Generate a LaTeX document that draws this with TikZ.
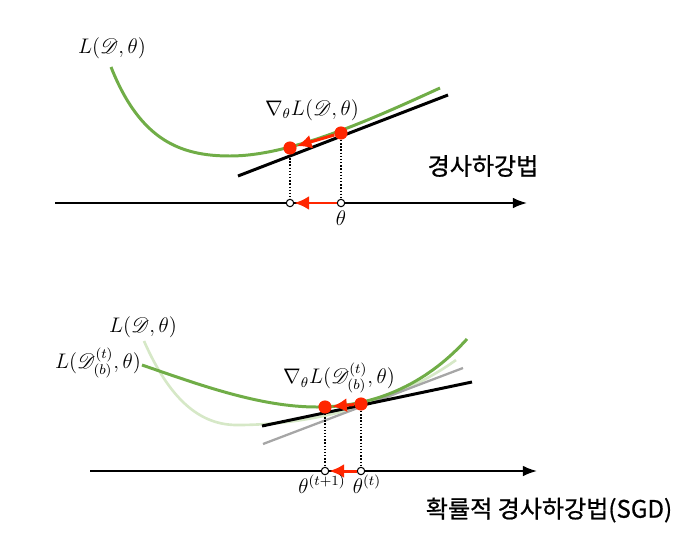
\documentclass[tikz,border=0pt]{standalone}
\usepackage[no-math]{fontspec}
\usepackage{mathrsfs}
\newfontfamily\krfont[FakeBold=0.8]{Noto Sans CJK KR}
\usetikzlibrary{arrows.meta}
\definecolor{lossgreen}{RGB}{112,173,71}
\definecolor{palegreen}{RGB}{214,232,199}
\definecolor{stepred}{RGB}{255,38,0}
\begin{document}
\begin{tikzpicture}[
    x=0.02cm, y=-0.02cm,
    curve/.style={lossgreen, line width=1.7pt},
    tangent/.style={black, line width=1.7pt},
    axis/.style={-{Latex[length=8pt,width=6pt]}, line width=1pt},
    pt/.style={circle, fill=stepred, minimum size=7.5pt, inner sep=0pt},
    tick/.style={circle, draw, fill=white, line width=0.6pt, minimum size=4.2pt, inner sep=0pt},
    drop/.style={densely dotted, line width=0.8pt},
    gdstep/.style={-{Latex[length=8.5pt,width=8pt]}, stepred, line width=1.7pt},
    lbl/.style={font=\large},
    kr/.style={font=\krfont\fontsize{13.7}{16}\selectfont}
]
    \useasboundingbox (0,0) rectangle (688,541);

    % Gradient descent
    \coordinate (axL) at (55,203);
    \coordinate (axR) at (527,203);
    \draw[axis] (axL) -- (axR);

    \coordinate (tanA) at (238,176);
    \coordinate (tanB) at (448,95);
    \draw[tangent] (tanA) -- (tanB);
    \draw[curve] (111,67) .. controls (140,140) and (180,156) .. (230,156)
        .. controls (290,156) and (370,120) .. (440,88);

    \node[pt] (new) at (290,148) {};
    \node[pt] (old) at (341,133) {};
    \node[tick] (tnew) at (290,203) {};
    \node[tick] (told) at (341,203) {};
    \draw[drop] (new) -- (tnew);
    \draw[drop] (old) -- (told);
    \draw[gdstep] (old) -- (new);
    \draw[gdstep] (told) -- (tnew);

    \node[lbl] (loss) at (112,48) {$L(\mathscr{D},\theta)$};
    \node[lbl] (grad) at (312,110) {$\nabla_{\theta}L(\mathscr{D},\theta)$};
    \node[lbl] (theta) at (341,218) {$\theta$};
    \node[kr] (gd) at (483,166) {경사하강법};

    % Stochastic gradient descent
    \coordinate (bxL) at (90,471);
    \coordinate (bxR) at (537,471);
    \draw[axis] (bxL) -- (bxR);

    \draw[palegreen, line width=1.5pt] (144,341) .. controls (170,400) and (200,425) .. (237,425)
        .. controls (320,425) and (400,400) .. (456,360);
    \coordinate (grayA) at (263,444);
    \coordinate (grayB) at (463,368);
    \draw[gray!70, line width=1.3pt] (grayA) -- (grayB);
    \coordinate (btanA) at (262,426);
    \coordinate (btanB) at (472,382);
    \draw[tangent] (btanA) -- (btanB);
    \draw[curve] (142,365) .. controls (200,385) and (260,407) .. (317,407)
        .. controls (380,407) and (430,380) .. (467,339);

    \node[pt] (bnew) at (325,407) {};
    \node[pt] (bold) at (361,404) {};
    \node[tick] (btnew) at (325,471) {};
    \node[tick] (btold) at (361,471) {};
    \draw[drop] (bnew) -- (btnew);
    \draw[drop] (bold) -- (btold);
    \draw[gdstep] (bold) -- (bnew);
    \draw[gdstep] (btold) -- (btnew);

    \node[lbl] (bloss) at (143,327) {$L(\mathscr{D},\theta)$};
    \node[lbl] (batch) at (98,363) {$L(\mathscr{D}^{(t)}_{(b)},\theta)$};
    \node[lbl] (bgrad) at (339,378) {$\nabla_{\theta}L(\mathscr{D}^{(t)}_{(b)},\theta)$};
    \node[lbl] (tnext) at (322,484) {$\theta^{(t+1)}$};
    \node[lbl] (tcur) at (367,484) {$\theta^{(t)}$};
    \node[kr] (sgd) at (549,510) {확률적 경사하강법(SGD)};
\end{tikzpicture}
\end{document}
